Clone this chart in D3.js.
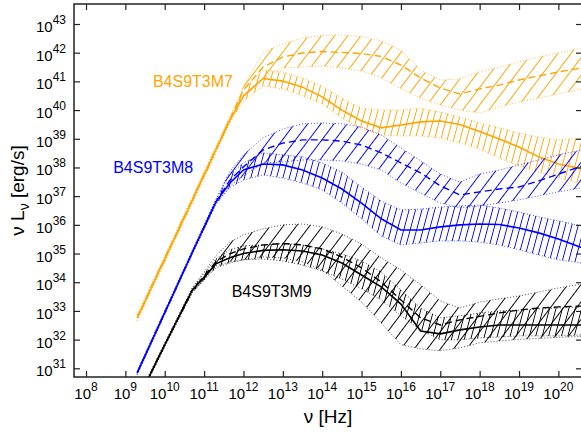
<!DOCTYPE html>
<html>
<head>
<meta charset="utf-8">
<script src="https://cdn.jsdelivr.net/npm/d3@7/dist/d3.min.js"></script>
<style>
  body { margin: 0; background: #fff; }
  text { font-family: "Liberation Sans", Arial, Helvetica, sans-serif; fill: #000; }
</style>
</head>
<body>
<script>
// log10 of frequency [Hz], shared by every curve
const logNu = [9.3, 10, 10.7, 11.3, 11.65, 12, 12.5, 13, 13.5, 14, 14.5, 15, 15.5,
               16, 16.5, 17, 17.5, 18, 18.5, 19, 19.5, 20, 20.6];

// log10 of nu L_nu [erg/s]; "solid" = solid line + its band, "dash" = dashed line + its band
const m7Solid   = [32.76, 34.81, 36.86, 38.62, 39.64, 40.49, 41.10, 41.01, 40.80, 40.46, 40.00, 39.62, 39.38, 39.48, 39.59, 39.62, 39.50, 39.25, 38.99, 38.71, 38.37, 38.12, 37.95];
const m7SolidHi = [32.86, 34.91, 36.96, 38.72, 39.73, 40.70, 41.40, 41.33, 41.12, 40.84, 40.42, 40.07, 40.00, 40.00, 40.07, 39.93, 39.76, 39.55, 39.38, 39.20, 39.06, 38.96, 39.03];
const m7SolidLo = [32.66, 34.71, 36.76, 38.52, 39.55, 40.32, 40.84, 40.74, 40.49, 40.21, 39.72, 39.34, 39.13, 39.10, 39.10, 39.03, 38.85, 38.64, 38.33, 38.05, 37.84, 37.63, 37.43];
const m7Dash    = [32.76, 34.81, 36.86, 38.62, 39.66, 40.70, 41.50, 41.85, 41.99, 42.04, 42.01, 41.97, 41.87, 41.57, 41.12, 40.77, 40.56, 40.74, 40.87, 41.05, 41.19, 41.33, 41.47];
const m7DashHi  = [32.86, 34.91, 36.96, 38.72, 39.76, 40.84, 42.02, 42.30, 42.51, 42.60, 42.62, 42.56, 42.41, 42.09, 41.40, 41.05, 41.08, 41.33, 41.50, 41.68, 41.85, 41.99, 42.16];
const m7DashLo  = [32.66, 34.71, 36.76, 38.52, 39.56, 40.53, 41.12, 41.47, 41.50, 41.54, 41.47, 41.36, 41.12, 40.74, 40.42, 40.18, 40.00, 39.90, 40.11, 40.28, 40.42, 40.56, 40.74];

const m8Solid   = [30.84, 32.94, 35.04, 36.80, 37.45, 37.91, 38.12, 38.09, 37.91, 37.63, 37.25, 36.76, 36.21, 35.82, 35.82, 35.93, 36.00, 36.03, 36.01, 35.89, 35.72, 35.51, 35.20];
const m8SolidHi = [30.90, 33.00, 35.10, 36.88, 37.75, 38.16, 38.51, 38.44, 38.37, 38.16, 37.84, 37.32, 36.83, 36.52, 36.55, 36.62, 36.66, 36.69, 36.59, 36.45, 36.28, 36.14, 35.96];
const m8SolidLo = [30.78, 32.88, 34.98, 36.72, 37.30, 37.56, 37.74, 37.63, 37.46, 37.22, 36.76, 36.21, 35.61, 35.30, 35.37, 35.44, 35.44, 35.40, 35.30, 35.13, 34.95, 34.78, 34.67];
const m8Dash    = [30.84, 32.94, 35.04, 36.80, 37.55, 38.02, 38.61, 38.85, 38.96, 38.96, 38.92, 38.78, 38.51, 38.16, 37.81, 37.36, 37.04, 37.15, 37.25, 37.32, 37.53, 37.77, 38.05];
const m8DashHi  = [30.90, 33.00, 35.10, 36.88, 37.85, 38.44, 39.03, 39.34, 39.52, 39.55, 39.52, 39.41, 39.13, 38.68, 38.23, 37.77, 37.49, 37.77, 37.91, 38.09, 38.26, 38.44, 38.61];
const m8DashLo  = [30.78, 32.88, 34.98, 36.72, 37.35, 37.70, 38.16, 38.19, 38.26, 38.26, 38.23, 38.12, 37.91, 37.46, 37.11, 36.76, 36.59, 36.66, 36.76, 36.87, 37.01, 37.15, 37.29];

const m9Solid   = [29.86, 31.82, 33.72, 34.64, 34.85, 35.00, 35.11, 35.13, 35.09, 34.95, 34.67, 34.25, 33.84, 33.24, 32.30, 32.20, 32.34, 32.44, 32.51, 32.51, 32.51, 32.51, 32.51];
const m9SolidHi = [29.92, 31.88, 33.80, 34.81, 35.13, 35.27, 35.30, 35.35, 35.30, 35.16, 34.99, 34.74, 34.36, 33.73, 33.10, 32.76, 32.83, 32.93, 33.00, 33.03, 33.07, 33.10, 33.14];
const m9SolidLo = [29.80, 31.76, 33.64, 34.50, 34.67, 34.78, 34.81, 34.74, 34.60, 34.39, 34.11, 33.77, 33.38, 32.83, 32.34, 31.99, 31.99, 32.06, 32.09, 32.13, 32.13, 32.13, 32.16];
const m9Dash    = [29.86, 31.82, 33.72, 34.71, 34.99, 35.16, 35.30, 35.35, 35.30, 35.16, 34.88, 34.50, 34.01, 33.38, 32.76, 32.51, 32.69, 32.81, 32.93, 33.03, 33.10, 33.14, 33.17];
const m9DashHi  = [29.92, 31.88, 33.80, 34.92, 35.40, 35.65, 35.86, 36.00, 36.03, 35.93, 35.68, 35.33, 34.85, 34.43, 33.91, 33.35, 33.10, 33.31, 33.42, 33.52, 33.66, 33.80, 33.94];
const m9DashLo  = [29.80, 31.76, 33.64, 34.57, 34.71, 34.78, 34.88, 34.85, 34.71, 34.43, 33.87, 33.31, 32.58, 31.82, 31.68, 31.61, 31.71, 31.89, 31.95, 32.01, 32.04, 32.08, 32.11];

const modelNames = ["B4S9T3M7", "B4S9T3M8", "B4S9T3M9"];
const xTickExp = d3.range(8, 21);
const yTickExp = d3.range(31, 44);

function main() {
  const width = 581, height = 433;
  const box = {left: 74, top: 4, right: 582, bottom: 377};

  const svg = d3.select("body").append("svg")
    .attr("width", width)
    .attr("height", height);

  const x = d3.scaleLog().domain([10 ** 7.695, 10 ** 20.6]).range([box.left, box.right]);
  const y = d3.scaleLog().domain([10 ** 30.697, 10 ** 43.697]).range([box.bottom, box.top]);

  const defs = svg.append("defs");
  defs.append("clipPath").attr("id", "plotClip")
    .append("rect")
    .attr("x", box.left).attr("y", box.top)
    .attr("width", box.right - box.left).attr("height", box.bottom - box.top);

  // line hatching, rotated from vertical
  function hatch(id, color, gap, angle) {
    const p = defs.append("pattern")
      .attr("id", id)
      .attr("patternUnits", "userSpaceOnUse")
      .attr("width", gap).attr("height", 20)
      .attr("patternTransform", "rotate(" + angle + ")");
    p.append("line")
      .attr("x1", gap / 2).attr("x2", gap / 2)
      .attr("y1", 0).attr("y2", 20)
      .attr("stroke", color).attr("stroke-width", 1)
      .attr("shape-rendering", "crispEdges");
  }

  const models = [
    {name: modelNames[0], color: "#ffa500", solid: m7Solid, solidHi: m7SolidHi, solidLo: m7SolidLo,
     dash: m7Dash, dashHi: m7DashHi, dashLo: m7DashLo, at: [9.70, 40.80]},
    {name: modelNames[1], color: "#0000ff", solid: m8Solid, solidHi: m8SolidHi, solidLo: m8SolidLo,
     dash: m8Dash, dashHi: m8DashHi, dashLo: m8DashLo, at: [8.69, 37.80]},
    {name: modelNames[2], color: "#000000", solid: m9Solid, solidHi: m9SolidHi, solidLo: m9SolidLo,
     dash: m9Dash, dashHi: m9DashHi, dashLo: m9DashLo, at: [11.70, 33.50]}
  ];

  models.forEach((m, i) => {
    hatch("wide" + i, m.color, 10.5, 37);
    hatch("tight" + i, m.color, 6.2, 15);
  });

  const area = d3.area()
    .x(d => x(10 ** d.nu))
    .y0(d => y(10 ** d.lo))
    .y1(d => y(10 ** d.hi));
  const line = d3.line()
    .x(d => x(10 ** d.nu))
    .y(d => y(10 ** d.v));

  const plot = svg.append("g").attr("clip-path", "url(#plotClip)");

  models.forEach((m, i) => {
    const g = plot.append("g");
    const dashBand = logNu.map((nu, k) => ({nu: nu, lo: m.dashLo[k], hi: m.dashHi[k]}));
    const solidBand = logNu.map((nu, k) => ({nu: nu, lo: m.solidLo[k], hi: m.solidHi[k]}));

    g.append("path").datum(dashBand).attr("d", area)
      .attr("fill", "url(#wide" + i + ")").attr("stroke", "none");
    g.append("path").datum(solidBand).attr("d", area)
      .attr("fill", "url(#tight" + i + ")").attr("stroke", "none");

    // dotted band edges
    [m.dashHi, m.dashLo, m.solidHi, m.solidLo].forEach(arr => {
      g.append("path")
        .datum(logNu.map((nu, k) => ({nu: nu, v: arr[k]})))
        .attr("d", line)
        .attr("fill", "none")
        .attr("stroke", m.color)
        .attr("stroke-width", 1)
        .attr("stroke-opacity", 0.7)
        .attr("stroke-dasharray", "1,2");
    });

    g.append("path")
      .datum(logNu.map((nu, k) => ({nu: nu, v: m.dash[k]})))
      .attr("d", line)
      .attr("fill", "none")
      .attr("stroke", m.color)
      .attr("stroke-width", 1.4)
      .attr("stroke-dasharray", "7,4");

    g.append("path")
      .datum(logNu.map((nu, k) => ({nu: nu, v: m.solid[k]})))
      .attr("d", line)
      .attr("fill", "none")
      .attr("stroke", m.color)
      .attr("stroke-width", 1.6);

    svg.append("text")
      .attr("x", x(10 ** m.at[0]))
      .attr("y", y(10 ** m.at[1]))
      .attr("font-size", "16px")
      .style("fill", m.color)
      .text(m.name);
  });

  // ticks on all four sides, pointing inward
  const xv = xTickExp.map(e => 10 ** e);
  const yv = yTickExp.map(e => 10 ** e);
  const axes = [
    [d3.axisBottom(x).tickValues(xv), "translate(0," + box.bottom + ")"],
    [d3.axisTop(x).tickValues(xv), "translate(0," + box.top + ")"],
    [d3.axisLeft(y).tickValues(yv), "translate(" + box.left + ",0)"],
    [d3.axisRight(y).tickValues(yv), "translate(" + box.right + ",0)"]
  ];
  axes.forEach(([ax, tr]) => {
    const g = svg.append("g").attr("transform", tr)
      .call(ax.tickSizeInner(-6).tickSizeOuter(0).tickFormat(""));
    g.select(".domain").remove();
    g.selectAll(".tick line").attr("stroke", "#222").attr("stroke-width", 1.2);
  });

  svg.append("rect")
    .attr("x", box.left).attr("y", box.top)
    .attr("width", box.right - box.left).attr("height", box.bottom - box.top)
    .attr("fill", "none").attr("stroke", "#222").attr("stroke-width", 1.5);

  // power-of-ten tick labels
  function powLabel(sel, e) {
    sel.append("tspan").text("10");
    sel.append("tspan").attr("dy", -8).attr("font-size", "12px").text(e);
  }
  xTickExp.forEach(e => {
    svg.append("text")
      .attr("x", x(10 ** e))
      .attr("y", 399)
      .attr("font-size", "15px")
      .attr("text-anchor", "middle")
      .call(powLabel, e);
  });
  yTickExp.forEach(e => {
    svg.append("text")
      .attr("x", 66)
      .attr("y", y(10 ** e) + 8)
      .attr("font-size", "15px")
      .attr("text-anchor", "end")
      .call(powLabel, e);
  });

  // axis titles
  svg.append("text")
    .attr("x", (box.left + box.right) / 2)
    .attr("y", 423)
    .attr("font-size", "19px")
    .attr("text-anchor", "middle")
    .text("ν [Hz]");

  const yt = svg.append("text")
    .attr("transform", "translate(24," + (box.top + box.bottom) / 2 + ") rotate(-90)")
    .attr("font-size", "19px")
    .attr("text-anchor", "middle");
  yt.append("tspan").text("ν L");
  yt.append("tspan").attr("dy", 5).attr("font-size", "14px").text("ν");
  yt.append("tspan").attr("dy", -5).text(" [erg/s]");
}

main();
</script>
</body>
</html>
